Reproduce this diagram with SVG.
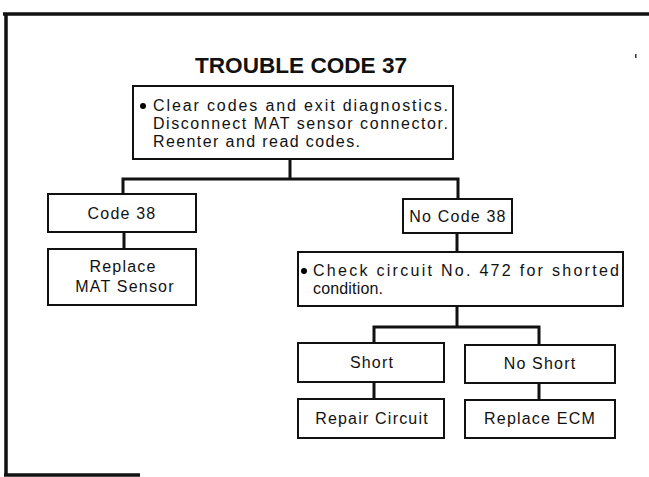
<svg xmlns="http://www.w3.org/2000/svg" width="649" height="477" viewBox="0 0 649 477">
  <style>
    .box { fill: #fff; stroke: #111; stroke-width: 2; }
    .wire { fill: none; stroke: #111; stroke-width: 3; stroke-linejoin: miter; }
    .frame { fill: none; stroke: #111; stroke-width: 3.5; }
    text { font-family: "Liberation Sans", Arial, sans-serif; fill: #111; }
    .t { font-size: 16px; }
    .c { font-size: 16px; text-anchor: middle; letter-spacing: 1.2px; }
    .title { font-size: 22px; font-weight: bold; text-anchor: middle; }
  </style>
  <rect width="649" height="477" fill="#fff"/>

  <!-- page frame -->
  <path class="frame" d="M3,14 H649 M6,14 V475 M4,475 H140"/>
  <rect x="635" y="54" width="1.5" height="4" fill="#333"/>

  <text class="title" x="301" y="73" textLength="212" lengthAdjust="spacingAndGlyphs">TROUBLE CODE 37</text>

  <!-- connectors -->
  <g id="connectors">
    <path class="wire" d="M290,159 V179 M123,194 V179 H458 V199"/>
    <path class="wire" d="M124,232 V249"/>
    <path class="wire" d="M457,233 V252"/>
    <path class="wire" d="M457,306 V327 M374,343 V327 H539 V345"/>
    <path class="wire" d="M374,382 V399"/>
    <path class="wire" d="M539,383 V400"/>
  </g>

  <g id="start">
    <rect class="box" x="133" y="86" width="320" height="73"/>
    <circle cx="143" cy="106" r="3"/>
    <text class="t" x="153" y="111" textLength="295" lengthAdjust="spacing">Clear codes and exit diagnostics.</text>
    <text class="t" x="153" y="129" textLength="295" lengthAdjust="spacing">Disconnect MAT sensor connector.</text>
    <text class="t" x="153" y="147" textLength="207" lengthAdjust="spacing">Reenter and read codes.</text>
  </g>

  <g id="code38">
    <rect class="box" x="48" y="194" width="148" height="38"/>
    <text class="c" x="122" y="219">Code 38</text>
  </g>

  <g id="replace-mat">
    <rect class="box" x="48" y="249" width="148" height="56"/>
    <text class="c" x="123" y="272">Replace</text>
    <text class="c" x="125" y="292">MAT Sensor</text>
  </g>

  <g id="no-code38">
    <rect class="box" x="403" y="199" width="109" height="34"/>
    <text class="c" x="458" y="222">No Code 38</text>
  </g>

  <g id="check-circuit">
    <rect class="box" x="298" y="252" width="325" height="54"/>
    <circle cx="304" cy="271" r="3"/>
    <text class="t" x="313" y="276" textLength="306" lengthAdjust="spacing">Check circuit No. 472 for shorted</text>
    <text class="t" x="313" y="294" textLength="70" lengthAdjust="spacing">condition.</text>
  </g>

  <g id="short">
    <rect class="box" x="298" y="343" width="146" height="39"/>
    <text class="c" x="372" y="368">Short</text>
  </g>

  <g id="no-short">
    <rect class="box" x="465" y="345" width="150" height="38"/>
    <text class="c" x="540" y="369">No Short</text>
  </g>

  <g id="repair-circuit">
    <rect class="box" x="298" y="399" width="146" height="39"/>
    <text class="c" x="372" y="424">Repair Circuit</text>
  </g>

  <g id="replace-ecm">
    <rect class="box" x="465" y="400" width="150" height="38"/>
    <text class="c" x="540" y="424">Replace ECM</text>
  </g>
</svg>
